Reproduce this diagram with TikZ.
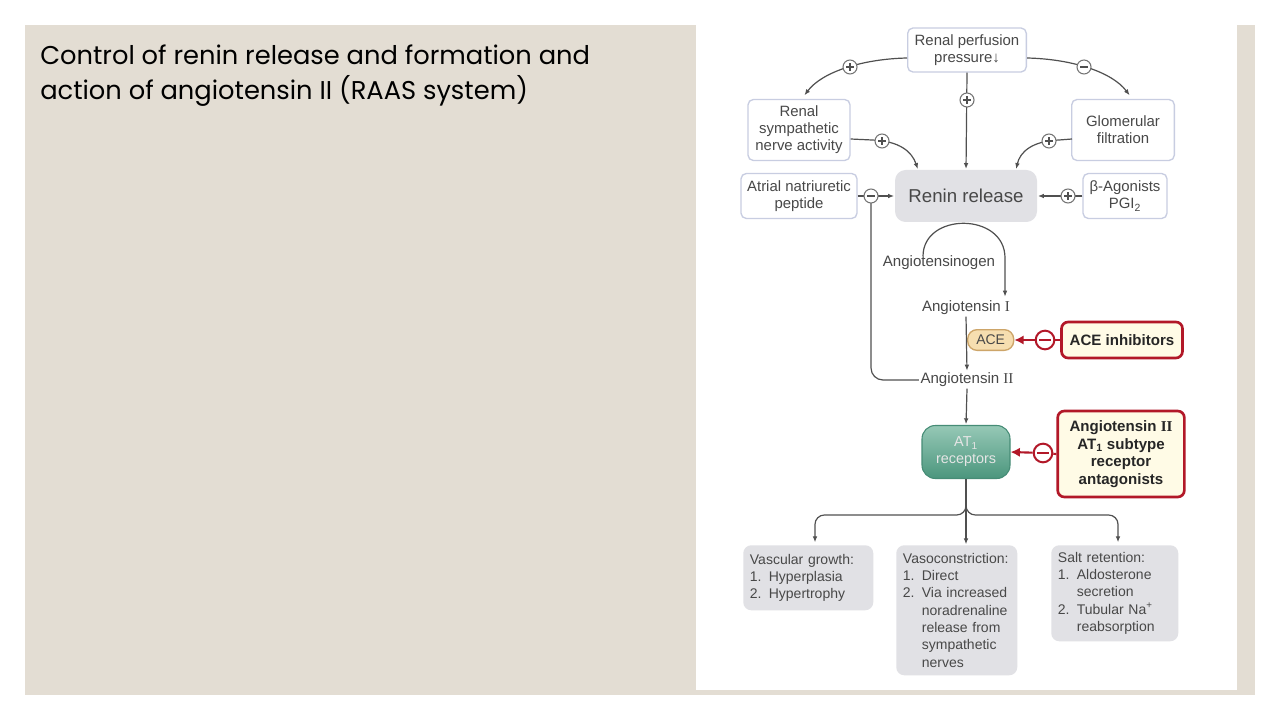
\documentclass[tikz,border=0pt]{standalone}
\usepackage{fontspec}
\setmainfont{Liberation Sans}
\newfontfamily\titlefont{Poppins}
\newfontfamily\romnum{Liberation Serif}
\usetikzlibrary{arrows.meta,calc}
\definecolor{beige}{RGB}{227,221,211}
\definecolor{txt}{RGB}{72,72,72}
\definecolor{boxline}{RGB}{200,205,225}
\definecolor{greyfill}{RGB}{225,225,229}
\definecolor{lineclr}{RGB}{80,80,80}
\definecolor{redc}{RGB}{178,24,40}
\definecolor{cream}{RGB}{255,251,230}
\definecolor{acefill}{RGB}{246,222,176}
\definecolor{aceline}{RGB}{205,165,105}
\definecolor{tealtop}{RGB}{150,200,182}
\definecolor{tealbot}{RGB}{75,150,125}
\definecolor{tealline}{RGB}{70,140,118}
\newcommand{\itm}[2]{\makebox[1.35em][l]{#1}\mbox{#2}}
\newcommand{\cnt}[1]{\makebox[1.35em][l]{}\mbox{#1}}
\tikzset{
  lbox/.style={draw=boxline, line width=1pt, rounded corners=4pt, fill=white, align=center, text=txt,
    font=\fontsize{11.2}{12.8}\selectfont, inner sep=2pt},
  gbox/.style={fill=greyfill, rounded corners=6pt, align=left, text=txt,
    font=\fontsize{10.5}{13}\selectfont, inner xsep=5pt, inner ysep=2pt},
  rbox/.style={draw=redc, line width=2pt, rounded corners=5pt, fill=cream, align=center, text=black!85,
    font=\bfseries\fontsize{11.3}{13.2}\selectfont, inner sep=2pt},
  lbl/.style={text=txt, font=\fontsize{11.3}{12.8}\selectfont, inner sep=1pt},
  conn/.style={draw=lineclr, line width=0.9pt},
  arr/.style={conn, -{Latex[length=4.5pt,width=3.5pt]}, shorten >=0.5pt},
  rarr/.style={draw=redc, line width=1.6pt, -{Latex[length=7pt,width=7pt]}},
  sgn/.style={circle, draw=lineclr!80, fill=white, line width=0.8pt, minimum size=10.5pt, inner sep=0pt},
  sgnplus/.style={sgn, path picture={
      \draw[lineclr, line width=0.8pt] ([xshift=-3pt]path picture bounding box.center) -- ([xshift=3pt]path picture bounding box.center);
      \draw[lineclr, line width=0.8pt] ([yshift=-3pt]path picture bounding box.center) -- ([yshift=3pt]path picture bounding box.center);}},
  sgnminus/.style={sgn, path picture={
      \draw[lineclr, line width=0.8pt] ([xshift=-3pt]path picture bounding box.center) -- ([xshift=3pt]path picture bounding box.center);}},
  redminus/.style={circle, draw=redc, fill=white, line width=1.5pt, minimum size=14pt, inner sep=0pt,
    path picture={\draw[redc, line width=1.5pt] ([xshift=-4.5pt]path picture bounding box.center) -- ([xshift=4.5pt]path picture bounding box.center);}}
}
\begin{document}
\begin{tikzpicture}[x=0.75pt,y=-0.75pt]
\useasboundingbox (0,0) rectangle (1280,720);
\fill[white] (0,0) rectangle (1280,720);
\fill[beige] (25,25) rectangle (1255,695);
\fill[white] (696,25) rectangle (1237,690);

\node[anchor=north west, align=left, inner sep=0pt, text=black,
  font=\titlefont\fontsize{19.3}{26.3}\selectfont] (title) at (40,45)
  {Control of renin release and formation and\\action of angiotensin II (RAAS system)};

% nodes
\node[lbox, minimum width=89pt, minimum height=33pt] (perf) at (967,50) {Renal perfusion\\pressure↓};
\node[lbox, minimum width=76.5pt, minimum height=45.75pt] (symp) at (799,130) {Renal\\sympathetic\\nerve activity};
\node[lbox, minimum width=77pt, minimum height=45.75pt] (glom) at (1123,130) {Glomerular\\filtration};
\node[lbox, minimum width=87pt, minimum height=33.75pt] (anp) at (799,196) {Atrial natriuretic\\peptide};
\node[fill=greyfill, rounded corners=8pt, text=txt, font=\fontsize{14}{16}\selectfont,
  minimum width=106.5pt, minimum height=39pt] (renin) at (966,196) {Renin release};
\node[lbox, minimum width=63pt, minimum height=33.75pt] (beta) at (1125,196) {β-Agonists\\PGI\textsubscript{2}};

\node[lbl] (angen) at (939,263) {Angiotensinogen};
\node[lbl] (angI) at (966,308) {Angiotensin {\romnum I}};
\node[draw=aceline, line width=1pt, fill=acefill, rounded corners=7pt, text=txt,
  font=\fontsize{10.5}{12}\selectfont, minimum width=34.5pt, minimum height=15.5pt, inner sep=1pt,
  anchor=west] (ace) at (967,340) {ACE};
\node[rbox, minimum width=90.75pt, minimum height=27pt] (aceinh) at (1122,340) {ACE inhibitors};
\node[lbl] (angII) at (967,380) {Angiotensin {\romnum II}};
\node[draw=tealline, line width=0.8pt, rounded corners=10pt, top color=tealtop, bottom color=tealbot,
  text=white!90!black, align=center, font=\fontsize{10.8}{12.8}\selectfont,
  minimum width=66pt, minimum height=39.75pt, inner sep=1pt] (at1) at (966,452) {AT\textsubscript{1}\\receptors};
\node[rbox, minimum width=95pt, minimum height=64.5pt] (at1ant) at (1121,454)
  {Angiotensin {\romnum\bfseries II}\\AT\textsubscript{1} subtype\\receptor\\antagonists};

\node[gbox, anchor=north west, text width=87.5pt, minimum height=48.75pt] (vasc) at (743,545)
  {Vascular growth:\\\itm{1.}{Hyperplasia}\\\itm{2.}{Hypertrophy}};
\node[gbox, anchor=north west, text width=80.75pt, minimum height=97.5pt] (vaso) at (896,545)
  {Vasoconstriction:\\\itm{1.}{Direct}\\\itm{2.}{Via increased}\\\cnt{noradrenaline}\\\cnt{release from}\\\cnt{sympathetic}\\\cnt{nerves}};
\node[gbox, anchor=north west, text width=85.25pt, minimum height=72pt] (salt) at (1051,545)
  {Salt retention:\\\itm{1.}{Aldosterone}\\\cnt{secretion}\\\itm{2.}{Tubular Na\textsuperscript{+}}\\\cnt{reabsorption}};

% sign circles positions
\coordinate (c1) at (850,67);
\coordinate (c2) at (1084,67);
\coordinate (c3) at (967,100);
\coordinate (c4) at (882,141);
\coordinate (c5) at (1049,141);
\coordinate (c6) at (871,196);
\coordinate (c7) at (1068,196);

% connectors
\draw[arr] ($(perf.west)+(0,8)$) .. controls (862,59) and (822,72) .. ($(symp.north)+(5,-3)$);
\draw[arr] ($(perf.east)+(0,8)$) .. controls (1072,59) and (1112,72) .. ($(glom.north)+(7,-3)$);
\draw[arr] (perf.south) -- (renin.north);
\draw[arr] ($(symp.east)+(0,9)$) -- (872,140) .. controls (900,141) and (912,152) .. ($(renin.north)+(-48,0)$);
\draw[arr] ($(glom.east)+(-103,9)$) -- (1059,140) .. controls (1032,141) and (1020,152) .. ($(renin.north)+(50,0)$);
\draw[arr] (anp.east) -- (renin.west);
\draw[arr] (beta.west) -- (renin.east);
\draw[conn, rounded corners=9pt] (c6) -- (c6 |- angII) -- (angII.west);

\draw[arr] ($(angen.north)+(-16,2)$) .. controls (923,212) and (1005,212) .. (1005,258) -- ($(angI.north)+(39,-2)$);
\draw[arr] (angI.south) -- (angII.north);
\draw[arr] (angII.south) -- (at1.north);

\node[redminus] (m8) at (1045,340) {};
\draw[draw=redc, line width=1.6pt] (aceinh.west) -- (m8);
\draw[rarr] (m8) -- (ace.east);
\node[redminus] (m9) at (1043,453) {};
\draw[draw=redc, line width=1.6pt] (at1ant.west) -- (m9);
\draw[rarr] (m9) -- (at1.east);

\draw[conn] (at1.south) -- (966,505);
\draw[arr] (966,505) -- (vaso.north -| 966,0);
\draw[arr, rounded corners=7pt] (966,503) -- (966,515) -- (815,515) -- (815,543);
\draw[arr, rounded corners=7pt] (966,503) -- (966,515) -- (1118,515) -- (1118,543);

% signs on top
\node[sgnplus] at (c1) {};
\node[sgnminus] at (c2) {};
\node[sgnplus] at (c3) {};
\node[sgnplus] at (c4) {};
\node[sgnplus] at (c5) {};
\node[sgnminus] at (c6) {};
\node[sgnplus] at (c7) {};
\end{tikzpicture}
\end{document}
